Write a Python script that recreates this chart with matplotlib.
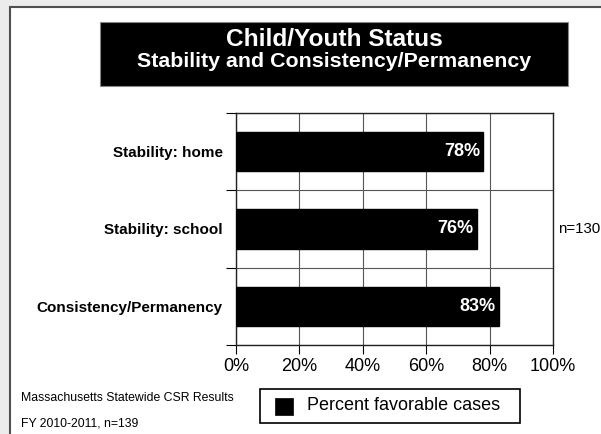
import matplotlib
matplotlib.use('Agg')
import matplotlib.pyplot as plt
from matplotlib.patches import Rectangle

plt.rcParams['font.family'] = ['Liberation Sans', 'DejaVu Sans']

# ---- data ----
categories = ['Stability: home', 'Stability: school', 'Consistency/Permanency']
values = [78, 76, 83]
value_labels = ['78%', '76%', '83%']
x_ticks = [0, 20, 40, 60, 80, 100]
x_tick_labels = ['0%', '20%', '40%', '60%', '80%', '100%']
title_line1 = 'Child/Youth Status'
title_line2 = 'Stability and Consistency/Permanency'
n_label = 'n=130'
footer_line1 = 'Massachusetts Statewide CSR Results'
footer_line2 = 'FY 2010-2011, n=139'
legend_label = 'Percent favorable cases'

W, H = 601, 434
fig = plt.figure(figsize=(W / 100, H / 100), dpi=100, facecolor='#ececec')


def fx(x):
    return x / W


def fy(y):
    return 1 - y / H


# white panel with dark border on left/top
panel = Rectangle((fx(10), -0.02), 1.05 - fx(10), fy(7) + 0.02,
                  transform=fig.transFigure, facecolor='white',
                  edgecolor='#505050', lw=1.5, zorder=0)
fig.add_artist(panel)

# title box
fig.add_artist(Rectangle((fx(100), fy(86)), 468 / W, 64 / H,
                         transform=fig.transFigure, facecolor='black',
                         edgecolor='#888888', lw=0.8))
fig.text(fx(334), fy(46), title_line1, ha='center', va='baseline',
         color='white', fontsize=17.6, fontweight='bold')
fig.text(fx(334), fy(67), title_line2, ha='center', va='baseline',
         color='white', fontsize=15.4, fontweight='bold')

# axes
ax = fig.add_axes([fx(236), fy(345), (553 - 236) / W, (345 - 112.7) / H])
ax.set_facecolor('white')
ypos = list(range(len(categories)))
bars = ax.barh(ypos, values, height=0.51, color='black', edgecolor='black',
               zorder=3)
ax.set_xlim(0, 100)
ax.set_ylim(len(categories) - 0.5, -0.5)

for b, lab in zip(bars, value_labels):
    ax.annotate(lab, (b.get_width(), b.get_y() + b.get_height() / 2),
                xytext=(-2.3, 0), textcoords='offset points',
                ha='right', va='center', color='white', fontsize=13,
                fontweight='bold', zorder=4)

ax.set_xticks(x_ticks)
ax.set_xticklabels(x_tick_labels, fontsize=13)
ax.tick_params(axis='x', length=6.5, width=0.8, pad=3.2)

ax.set_yticks(ypos)
ax.set_yticklabels(categories, fontsize=11, fontweight='bold')
ax.tick_params(axis='y', which='major', length=0, pad=9.6)
ax.set_yticks([i - 0.5 for i in range(len(categories) + 1)], minor=True)
ax.tick_params(axis='y', which='minor', length=7.2, width=0.8)

ax.grid(axis='x', which='major', color='#555555', lw=0.8)
ax.grid(axis='y', which='minor', color='#555555', lw=0.8)
ax.set_axisbelow(True)
for s in ax.spines.values():
    s.set_linewidth(1.0)
    s.set_color('#222222')

# n label
fig.text(fx(558.5), fy(229), n_label, fontsize=10.8, ha='left', va='center')

# footer
fig.text(fx(20.7), fy(398), footer_line1, fontsize=8.8, ha='left', va='center')
fig.text(fx(20.7), fy(423), footer_line2, fontsize=8.8, ha='left', va='center')

# legend box
fig.add_artist(Rectangle((fx(260), fy(423)), 260 / W, 34 / H,
                         transform=fig.transFigure, facecolor='white',
                         edgecolor='black', lw=1.2))
fig.add_artist(Rectangle((fx(275), fy(415)), 17.5 / W, 17 / H,
                         transform=fig.transFigure, facecolor=bars[0].get_facecolor(),
                         edgecolor='black', lw=0.5))
fig.text(fx(306.7), fy(405.5), legend_label, fontsize=13, ha='left', va='center')

fig.savefig('out.png', dpi=100, facecolor=fig.get_facecolor())
